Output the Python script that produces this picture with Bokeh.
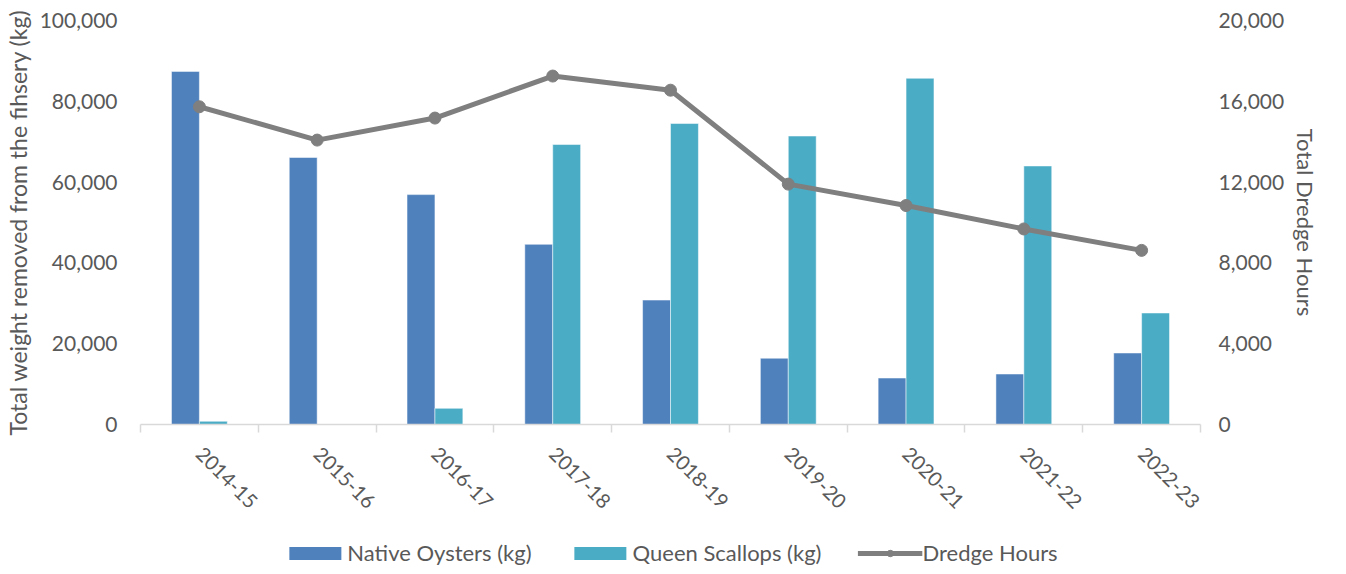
import math
from bokeh.plotting import figure
from bokeh.layouts import column
from bokeh.models import (Range1d, FactorRange, LinearAxis, CategoricalAxis, FixedTicker,
                          NumeralTickFormatter, Legend, LegendItem, ColumnDataSource)
from bokeh.transform import dodge
from bokeh.embed import file_html
from bokeh.resources import INLINE

seasons = ["2014-15", "2015-16", "2016-17", "2017-18", "2018-19",
           "2019-20", "2020-21", "2021-22", "2022-23"]
native_oysters_kg = [87400, 66100, 56900, 44600, 30800, 16400, 11500, 12500, 17700]
queen_scallops_kg = [800, 0, 4000, 69300, 74500, 71400, 85700, 64000, 27600]
dredge_hours = [15730, 14080, 15170, 17250, 16550, 11900, 10840, 9680, 8620]
left_ticks = [0, 20000, 40000, 60000, 80000, 100000]
right_ticks = [0, 4000, 8000, 12000, 16000, 20000]
series_names = ["Native Oysters (kg)", "Queen Scallops (kg)", "Dredge Hours"]

FONT = "Lato"
TXT = "#595959"
C_OY, C_SC, C_LN = "#4F81BD", "#4BACC6", "#7F7F7F"

src = ColumnDataSource(dict(season=seasons, oysters=native_oysters_kg,
                            scallops=queen_scallops_kg, hours=dredge_hours))

p = figure(width=1330, height=526, x_range=FactorRange(*seasons), y_range=Range1d(0, 100000),
           output_backend="svg", toolbar_location=None,
           x_axis_location=None, y_axis_location=None,
           min_border_left=134, min_border_right=130, min_border_top=20, min_border_bottom=102)
p.outline_line_color = None
p.xgrid.visible = False
p.ygrid.visible = False
p.background_fill_color = "white"
p.border_fill_color = "white"

p.extra_y_ranges = {"hours": Range1d(0, 20000)}

# boundary tick axis (no labels); numeric ticks are synthetic category-edge coordinates
edge_ticks = list(range(len(seasons) + 1))
edge_axis = LinearAxis(ticker=FixedTicker(ticks=edge_ticks),
                       major_label_overrides={t: "" for t in edge_ticks},
                       major_label_text_font_size="1px", major_label_standoff=0,
                       major_tick_out=8, major_tick_in=0, minor_tick_line_color=None,
                       axis_line_color="#D9D9D9", major_tick_line_color="#D9D9D9",
                       axis_line_width=1.5, major_tick_line_width=1.5)
p.add_layout(edge_axis, "below")

cat_axis = CategoricalAxis(major_label_orientation=-math.pi / 4,
                           axis_line_color=None, major_tick_line_color=None,
                           minor_tick_line_color=None, major_tick_out=0, major_tick_in=0,
                           major_label_text_font=FONT, major_label_text_font_size="20px",
                           major_label_text_color=TXT, major_label_standoff=18)
p.add_layout(cat_axis, "below")

left_axis = LinearAxis(ticker=FixedTicker(ticks=left_ticks),
                       formatter=NumeralTickFormatter(format="0,0"),
                       axis_line_color=None, major_tick_line_color=None, minor_tick_line_color=None,
                       major_tick_out=0, major_tick_in=0,
                       major_label_standoff=23, major_label_text_font=FONT,
                       major_label_text_font_size="21px", major_label_text_color=TXT,
                       axis_label="Total weight removed from the fihsery (kg)",
                       axis_label_text_font=FONT, axis_label_text_font_size="23px",
                       axis_label_text_color=TXT, axis_label_text_font_style="normal",
                       axis_label_standoff=5)
p.add_layout(left_axis, "left")

right_axis = LinearAxis(y_range_name="hours", ticker=FixedTicker(ticks=right_ticks),
                        formatter=NumeralTickFormatter(format="0,0"),
                        axis_line_color=None, major_tick_line_color=None, minor_tick_line_color=None,
                        major_tick_out=0, major_tick_in=0,
                        major_label_standoff=18, major_label_text_font=FONT,
                        major_label_text_font_size="21px", major_label_text_color=TXT,
                        axis_label="Total Dredge Hours",
                        axis_label_text_font=FONT, axis_label_text_font_size="22px",
                        axis_label_text_color=TXT, axis_label_text_font_style="normal",
                        axis_label_standoff=5)
p.add_layout(right_axis, "right")

p.vbar(x=dodge("season", -0.1185, range=p.x_range), top="oysters", width=0.237,
       source=src, fill_color=C_OY, line_color="#FFFFFF", line_width=0.5)
p.vbar(x=dodge("season", 0.1185, range=p.x_range), top="scallops", width=0.237,
       source=src, fill_color=C_SC, line_color="#FFFFFF", line_width=0.5)
p.line(x="season", y="hours", y_range_name="hours", source=src,
       line_color=C_LN, line_width=5)
p.scatter(x="season", y="hours", y_range_name="hours", source=src,
          marker="circle", size=12, fill_color=C_LN, line_color=C_LN)

# separate strip holding the legend; key glyphs sit outside its visible range
lf = figure(width=1330, height=40, output_backend="svg", toolbar_location=None,
            x_range=Range1d(0, 1), y_range=Range1d(0, 1),
            x_axis_location=None, y_axis_location=None,
            min_border_left=0, min_border_right=0, min_border_top=0, min_border_bottom=0)
lf.outline_line_color = None
lf.xgrid.visible = False
lf.ygrid.visible = False
lf.background_fill_color = "white"
lf.border_fill_color = "white"
k_oy = lf.vbar(x=[-5], top=[-5], bottom=[-6], width=0.5, fill_color=C_OY, line_color=None)
k_sc = lf.vbar(x=[-5], top=[-5], bottom=[-6], width=0.5, fill_color=C_SC, line_color=None)
k_ln = lf.line(x=[-6, -5], y=[-5, -5], line_color=C_LN, line_width=5)
k_pt = lf.scatter(x=[-5], y=[-5], marker="circle", size=12, fill_color=C_LN, line_color=C_LN)

legend = Legend(items=[LegendItem(label=series_names[0], renderers=[k_oy]),
                       LegendItem(label=series_names[1], renderers=[k_sc]),
                       LegendItem(label=series_names[2], renderers=[k_ln, k_pt])],
                orientation="horizontal", location="bottom_center",
                glyph_width=65, glyph_height=16, label_standoff=0, spacing=36,
                padding=0, margin=0, border_line_color=None, background_fill_alpha=0,
                label_text_font=FONT, label_text_font_size="22px", label_text_color=TXT)
lf.add_layout(legend, "center")

layout = column(p, lf, spacing=0)
open("out.html", "w").write(file_html(layout, INLINE))
